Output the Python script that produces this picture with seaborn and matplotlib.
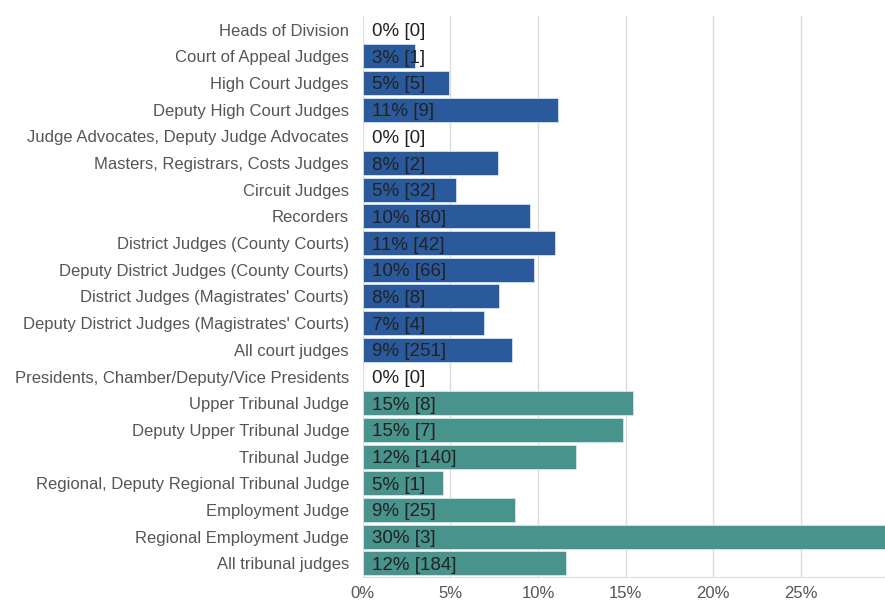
import pandas as pd
import seaborn as sns
import matplotlib.pyplot as plt
from matplotlib.ticker import FuncFormatter

# datos
categorias = ['Heads of Division', 'Court of Appeal Judges', 'High Court Judges',
              'Deputy High Court Judges', 'Judge Advocates, Deputy Judge Advocates',
              'Masters, Registrars, Costs Judges', 'Circuit Judges', 'Recorders',
              'District Judges (County Courts)', 'Deputy District Judges (County Courts)',
              "District Judges (Magistrates' Courts)", "Deputy District Judges (Magistrates' Courts)",
              'All court judges', 'Presidents, Chamber/Deputy/Vice Presidents',
              'Upper Tribunal Judge', 'Deputy Upper Tribunal Judge', 'Tribunal Judge',
              'Regional, Deputy Regional Tribunal Judge', 'Employment Judge',
              'Regional Employment Judge', 'All tribunal judges']
porcentajes = [0, 3.0, 4.94, 11.16, 0, 7.72, 5.33, 9.52, 10.98, 9.76, 7.78, 6.92, 8.54,
               0, 15.39, 14.84, 12.14, 4.57, 8.71, 30.0, 11.6]
cantidades = [0, 1, 5, 9, 0, 2, 32, 80, 42, 66, 8, 4, 251,
              0, 8, 7, 140, 1, 25, 3, 184]
grupos = ['Courts'] * 13 + ['Tribunals'] * 8

df = pd.DataFrame({'cat': categorias, 'pct': porcentajes, 'n': cantidades, 'grupo': grupos})

sns.set_style('white')
plt.rcParams['font.family'] = ['Liberation Sans', 'DejaVu Sans']

fig = plt.figure(figsize=(8.85, 6.02), dpi=100)
ax = fig.add_axes([0.41, 0.042, 0.59, 0.931])

sns.barplot(data=df, y='cat', x='pct', hue='grupo', dodge=False, orient='h',
            palette={'Courts': '#2a5a9c', 'Tribunals': '#48938b'}, saturation=1,
            width=0.9, edgecolor='#d8e4ee', linewidth=0.6, legend=False,
            zorder=3, ax=ax)

ax.set_xlim(0, 29.8)
ax.set_xticks([0, 5, 10, 15, 20, 25])
ax.xaxis.set_major_formatter(FuncFormatter(lambda v, p: f'{v:.0f}%'))
ax.grid(axis='x', color='#dcdcdc', linewidth=1, zorder=0)
ax.set_xlabel('')
ax.set_ylabel('')
for s in ['top', 'right', 'left']:
    ax.spines[s].set_visible(False)
ax.spines['bottom'].set_color('#dcdcdc')
ax.tick_params(axis='both', length=0, colors='#555555', labelsize=12)
ax.tick_params(axis='x', pad=7)
ax.tick_params(axis='y', pad=10)

# etiquetas dentro de las barras
for i, row in df.iterrows():
    ax.text(0.5, i, f"{row['pct']:.0f}% [{row['n']}]", va='center_baseline', ha='left',
            fontsize=13.5, color='#222222', zorder=4)

fig.savefig('out.png', dpi=100)
